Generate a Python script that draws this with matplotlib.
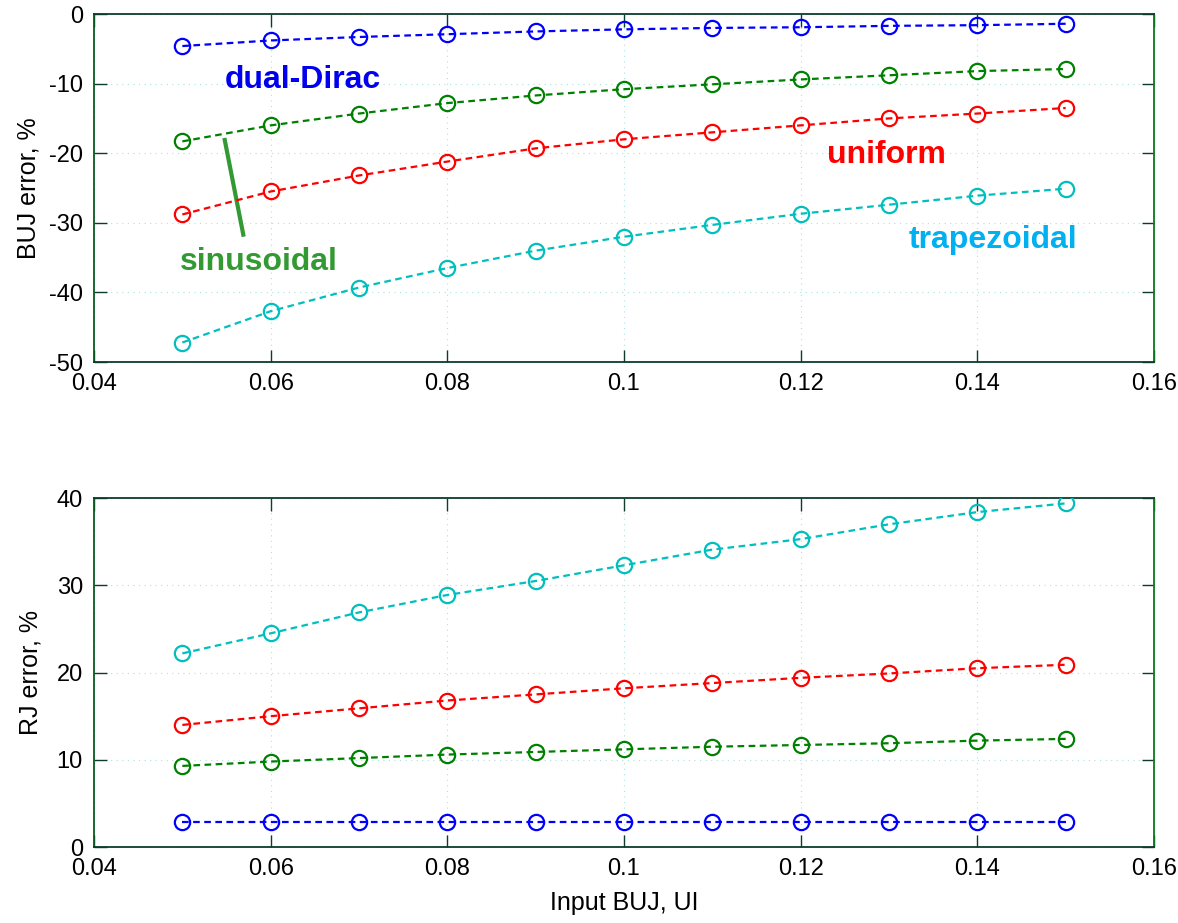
import numpy as np
import matplotlib
matplotlib.use('Agg')
import matplotlib.pyplot as plt

plt.rcParams['font.family'] = ['Liberation Sans', 'DejaVu Sans']
plt.rcParams['axes.unicode_minus'] = False

# input BUJ, UI
buj = [0.05, 0.06, 0.07, 0.08, 0.09, 0.10, 0.11, 0.12, 0.13, 0.14, 0.15]

# BUJ error, %
buj_dual = [-4.6, -3.8, -3.3, -2.9, -2.5, -2.2, -2.0, -1.9, -1.7, -1.6, -1.4]
buj_sin = [-18.3, -16.0, -14.3, -12.8, -11.7, -10.8, -10.1, -9.4, -8.8, -8.2, -7.9]
buj_uni = [-28.8, -25.5, -23.2, -21.2, -19.3, -18.0, -17.0, -16.0, -15.0, -14.3, -13.5]
buj_trap = [-47.2, -42.7, -39.3, -36.5, -34.0, -32.0, -30.3, -28.7, -27.4, -26.1, -25.1]

# RJ error, %
rj_dual = [2.9, 2.9, 2.9, 2.9, 2.9, 2.9, 2.9, 2.9, 2.9, 2.9, 2.9]
rj_sin = [9.3, 9.8, 10.2, 10.6, 10.9, 11.2, 11.5, 11.7, 11.9, 12.2, 12.4]
rj_uni = [14.0, 15.0, 15.9, 16.8, 17.5, 18.2, 18.8, 19.4, 19.9, 20.5, 20.9]
rj_trap = [22.2, 24.5, 26.9, 28.9, 30.5, 32.3, 34.1, 35.3, 37.0, 38.4, 39.4]

colors = {'dual': '#0000ff', 'sin': '#008000', 'uni': '#ff0000', 'trap': '#00bfbf'}
spine_col = '#0d3b2e'
xticks = [0.04, 0.06, 0.08, 0.1, 0.12, 0.14, 0.16]
xticklabels = ['0.04', '0.06', '0.08', '0.1', '0.12', '0.14', '0.16']

fig = plt.figure(figsize=(11.78, 9.23), dpi=100)
ax1 = fig.add_axes([0.0798, 0.6078, 0.8998, 0.377])
ax2 = fig.add_axes([0.0798, 0.0823, 0.8998, 0.378])


def style(ax, yticks):
    ax.set_xlim(0.04, 0.16)
    ax.set_xticks(xticks)
    ax.set_xticklabels(xticklabels)
    ax.set_yticks(yticks)
    ax.set_ylim(yticks[0], yticks[-1])
    ax.grid(True, linestyle=(0, (1, 4)), color='#a8e4e4', linewidth=0.8)
    ax.tick_params(direction='in', length=9, width=1, top=True, right=True,
                   labelsize=17, color=spine_col, pad=8)
    for s in ax.spines.values():
        s.set_color(spine_col)
        s.set_linewidth(1.3)
    ax.spines['right'].set_color('#0a7a1e')
    ax.spines['left'].set_color('#0a5a1e')


def series(ax, data):
    for key, ys in data:
        ax.plot(buj, ys, linestyle='--', dashes=(3, 2), color=colors[key],
                linewidth=1.6, marker='o', markersize=11,
                markerfacecolor='none', markeredgewidth=1.6, zorder=3)


series(ax1, [('dual', buj_dual), ('sin', buj_sin), ('uni', buj_uni), ('trap', buj_trap)])
series(ax2, [('dual', rj_dual), ('sin', rj_sin), ('uni', rj_uni), ('trap', rj_trap)])

style(ax1, [-50, -40, -30, -20, -10, 0])
style(ax2, [0, 10, 20, 30, 40])

ax1.set_ylabel('BUJ error, %', fontsize=18, labelpad=6)
ax2.set_ylabel('RJ error, %', fontsize=18, labelpad=10)
ax2.set_xlabel('Input BUJ, UI', fontsize=18, labelpad=8)

ax1.text(0.0636, -9.5, 'dual-Dirac', color='#0000ee', fontsize=23,
         fontweight='bold', ha='center', va='center')
ax1.text(0.0587, -35.6, 'sinusoidal', color='#339933', fontsize=23,
         fontweight='bold', ha='center', va='center')
ax1.plot([0.0548, 0.0569], [-18.1, -31.7], color='#339933', linewidth=3)
ax1.text(0.1297, -20.3, 'uniform', color='#ff0000', fontsize=23,
         fontweight='bold', ha='center', va='center')
ax1.text(0.1418, -32.5, 'trapezoidal', color='#00b0f0', fontsize=23,
         fontweight='bold', ha='center', va='center')

plt.savefig('out.png', dpi=100)
